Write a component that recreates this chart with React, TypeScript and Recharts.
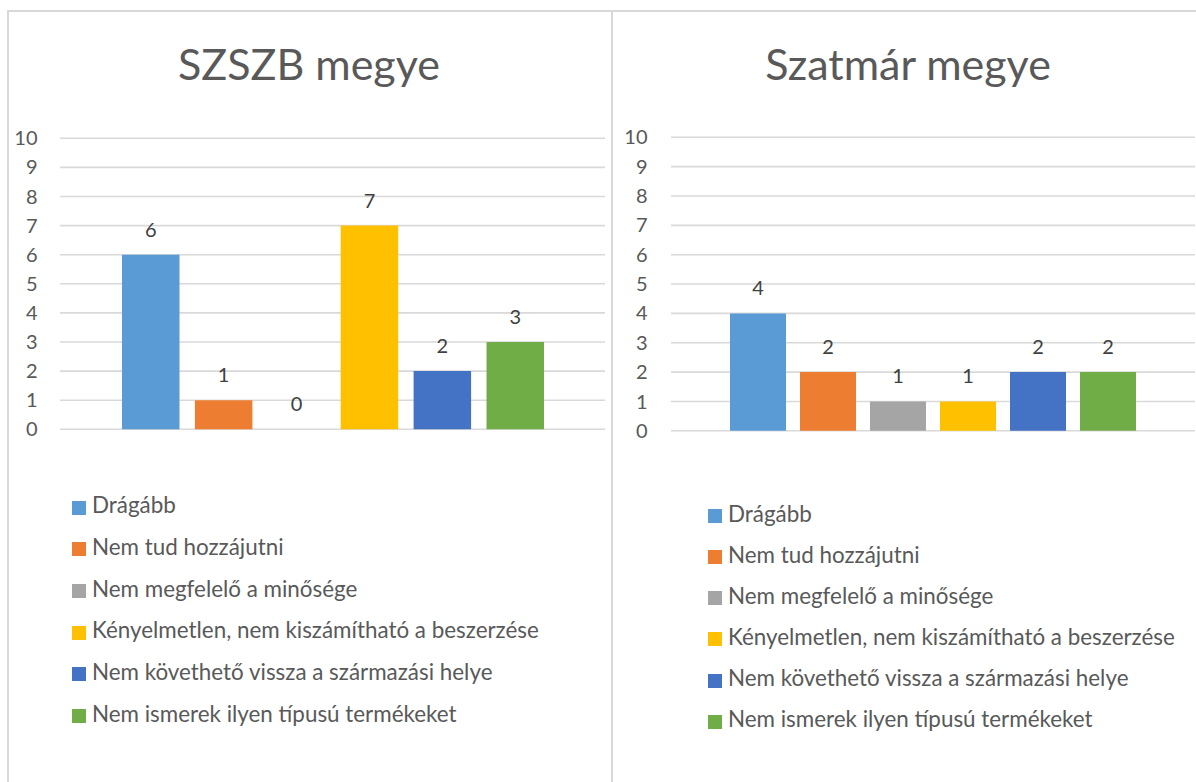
import React from "react";
import {
  BarChart,
  Bar,
  XAxis,
  YAxis,
  CartesianGrid,
  Legend,
  LabelList,
} from "recharts";

const seriesNames = [
  "Drágább",
  "Nem tud hozzájutni",
  "Nem megfelelő a minősége",
  "Kényelmetlen, nem kiszámítható a beszerzése",
  "Nem követhető vissza a származási helye",
  "Nem ismerek ilyen típusú termékeket",
];
const seriesColors = ["#5b9bd5", "#ed7d31", "#a5a5a5", "#ffc000", "#4472c4", "#70ad47"];
const szszbValues = [6, 1, 0, 7, 2, 3];
const szatmarValues = [4, 2, 1, 1, 2, 2];
const yTicks = [0, 1, 2, 3, 4, 5, 6, 7, 8, 9, 10];

const FONT = "Lato, 'Open Sans', sans-serif";
const TEXT = "#595959";
const GRID = "#d9d9d9";

function toRows(title: string, values: number[]) {
  const row: Record<string, string | number> = { name: title };
  values.forEach((v, i) => {
    row["s" + i] = v;
  });
  return [row];
}

interface PanelProps {
  title: string;
  values: number[];
  x: number;
  width: number;
  titleWidth: number;
  marginTop: number;
  marginRight: number;
  marginBottom: number;
  yAxisWidth: number;
  tickMargin: number;
  xAxisHeight: number;
  legendLeft: number;
  legendLine: number;
  barSize: number;
  barGap: number;
}

function Panel(p: PanelProps) {
  const data = toRows(p.title, p.values);
  return (
    <>
      <div
        style={{
          position: "absolute",
          left: p.x,
          top: 42,
          width: p.titleWidth,
          textAlign: "center",
          fontSize: 43,
          lineHeight: "43px",
          color: TEXT,
          fontFamily: FONT,
        }}
      >
        {p.title}
      </div>
      <div style={{ position: "absolute", left: p.x, top: 100 }}>
        <BarChart
          width={p.width}
          height={682}
          data={data}
          margin={{ top: p.marginTop, right: p.marginRight, bottom: p.marginBottom, left: 0 }}
          barGap={p.barGap}
          style={{ fontFamily: FONT }}
        >
          <CartesianGrid vertical={false} stroke={GRID} strokeWidth={1.6} />
          <XAxis
            dataKey="name"
            tick={false}
            tickLine={false}
            axisLine={false}
            height={p.xAxisHeight}
          />
          <YAxis
            domain={[0, 10]}
            ticks={yTicks}
            interval={0}
            width={p.yAxisWidth}
            axisLine={false}
            tickLine={false}
            tickSize={0}
            tickMargin={p.tickMargin}
            tick={{ fill: TEXT, fontSize: 20, fontFamily: FONT }}
          />
          <Legend
            layout="vertical"
            align="center"
            verticalAlign="bottom"
            iconType="square"
            iconSize={14}
            itemSorter={(item: any) => seriesNames.indexOf(item.value)}
            wrapperStyle={{
              left: p.legendLeft,
              lineHeight: p.legendLine + "px",
              fontSize: 22.4,
              fontFamily: FONT,
            }}
            formatter={(value: string) => (
              <span style={{ color: TEXT, paddingLeft: 2 }}>{value}</span>
            )}
          />
          {seriesNames.map((name, i) => (
            <Bar
              key={name}
              dataKey={"s" + i}
              name={name}
              fill={seriesColors[i]}
              barSize={p.barSize}
              minPointSize={0.01}
              isAnimationActive={false}
            >
              <LabelList
                dataKey={"s" + i}
                position="top"
                offset={18}
                fill="#404040"
                fontSize={20}
                fontFamily={FONT}
              />
            </Bar>
          ))}
        </BarChart>
      </div>
    </>
  );
}

export default function App() {
  return (
    <div
      style={{
        position: "absolute",
        left: 0,
        top: 0,
        width: 1196,
        height: 782,
        overflow: "hidden",
        background: "#fff",
      }}
    >
      <div
        style={{
          position: "absolute",
          left: 7,
          top: 10,
          width: 1300,
          height: 900,
          borderTop: "2px solid " + GRID,
          borderLeft: "2px solid " + GRID,
        }}
      />
      <div style={{ position: "absolute", left: 611, top: 10, width: 2, height: 900, background: GRID }} />
      <Panel
        title="SZSZB megye"
        values={szszbValues}
        x={7}
        width={604}
        titleWidth={604}
        marginTop={38.3}
        marginRight={6}
        marginBottom={47.6}
        yAxisWidth={53}
        tickMargin={22.5}
        xAxisHeight={54.9}
        legendLeft={65}
        legendLine={41.7}
        barSize={57.5}
        barGap={15.4}
      />
      <Panel
        title="Szatmár megye"
        values={szatmarValues}
        x={612}
        width={588}
        titleWidth={592}
        marginTop={37.3}
        marginRight={5}
        marginBottom={42.65}
        yAxisWidth={59}
        tickMargin={23.5}
        xAxisHeight={62}
        legendLeft={96}
        legendLine={41.1}
        barSize={56}
        barGap={14}
      />
    </div>
  );
}
